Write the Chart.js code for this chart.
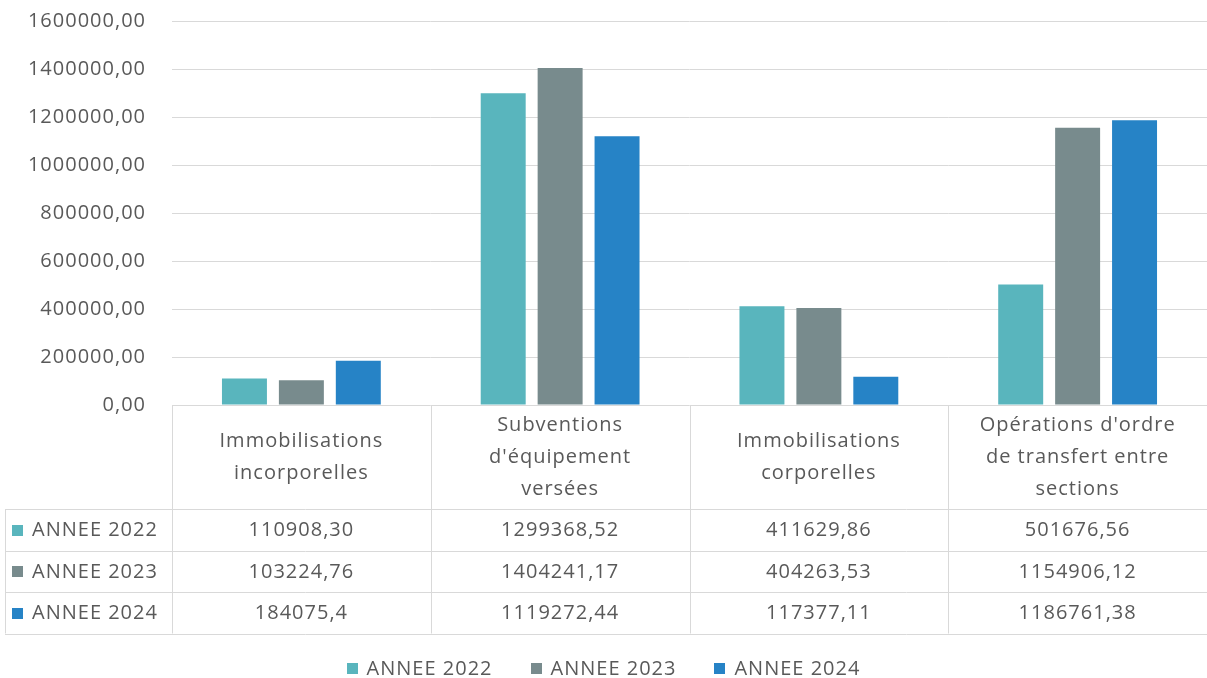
<!DOCTYPE html>
<html>
<head>
<meta charset="utf-8">
<script src="https://cdn.jsdelivr.net/npm/chart.js@4.4.1/dist/chart.umd.min.js"></script>
<style>
  html, body { margin: 0; padding: 0; background: #fff; }
  canvas { display: block; }
</style>
</head>
<body>
<canvas id="myChart" width="1207" height="678"></canvas>
<script>
// categories (header lines of the data table)
const categories = [
  ['Immobilisations', 'incorporelles'],
  ['Subventions', "d'équipement", 'versées'],
  ['Immobilisations', 'corporelles'],
  ["Opérations d'ordre", 'de transfert entre', 'sections']
];
const seriesNames = ['ANNEE 2022', 'ANNEE 2023', 'ANNEE 2024'];
// values as printed in the table
const values2022 = ['110908,30', '1299368,52', '411629,86', '501676,56'];
const values2023 = ['103224,76', '1404241,17', '404263,53', '1154906,12'];
const values2024 = ['184075,4', '1119272,44', '117377,11', '1186761,38'];
const yMax = 1600000;
const yStep = 200000;

const colors = ['#59B5BD', '#788B8D', '#2683C6'];
const textColor = '#595959';
const lineColor = '#D9D9D9';
const fontFamily = '"Open Sans", sans-serif';
const fontSize = 20;
const spacing = '1px';

const allValues = [values2022, values2023, values2024];
const toNum = s => parseFloat(s.replace(',', '.'));

const setSpacing = {
  id: 'setSpacing',
  beforeUpdate(chart) { chart.ctx.letterSpacing = spacing; },
  beforeDraw(chart) { chart.ctx.letterSpacing = spacing; }
};

const dataTable = {
  id: 'dataTable',
  afterDraw(chart) {
    const ctx = chart.ctx;
    const area = chart.chartArea;
    const x = chart.scales.x;
    const L = area.left, R = area.right, B = area.bottom;
    const headerBottom = B + 104;
    const rowH = 41.5;
    const tableBottom = headerBottom + rowH * seriesNames.length;
    const catW = (R - L) / categories.length;
    const px = v => Math.round(v) + 0.5;

    ctx.save();
    ctx.letterSpacing = spacing;
    ctx.strokeStyle = lineColor;
    ctx.lineWidth = 1;
    ctx.beginPath();
    for (let r = 0; r <= seriesNames.length; r++) {
      const y = px(headerBottom + r * rowH);
      ctx.moveTo(5, y); ctx.lineTo(R, y);
    }
    ctx.moveTo(px(5), headerBottom); ctx.lineTo(px(5), tableBottom);
    for (let i = 0; i <= categories.length; i++) {
      const xx = px(L + i * catW);
      ctx.moveTo(xx, B); ctx.lineTo(xx, tableBottom);
    }
    ctx.stroke();

    ctx.fillStyle = textColor;
    ctx.font = fontSize + 'px ' + fontFamily;
    ctx.textBaseline = 'middle';
    ctx.textAlign = 'center';
    const lh = 32;
    const hc = (B + headerBottom) / 2;
    categories.forEach((lines, i) => {
      const cx = x.getPixelForValue(i);
      const y0 = hc - (lines.length - 1) * lh / 2;
      lines.forEach((t, k) => ctx.fillText(t, cx, y0 + k * lh));
    });

    seriesNames.forEach((name, r) => {
      const cy = headerBottom + r * rowH + rowH / 2;
      ctx.fillStyle = colors[r];
      ctx.fillRect(12, Math.round(cy - 5), 11, 11);
      ctx.fillStyle = textColor;
      ctx.textAlign = 'left';
      ctx.fillText(name, 32, cy + 1);
      ctx.textAlign = 'center';
      allValues[r].forEach((v, i) => ctx.fillText(v, x.getPixelForValue(i), cy + 1));
    });

    // legend
    const ly = 668;
    const gapKey = 9, gapItem = 38;
    const widths = seriesNames.map(n => 11 + gapKey + ctx.measureText(n).width);
    const total = widths.reduce((a, b) => a + b, 0) + gapItem * (widths.length - 1);
    let lx = (chart.width - total) / 2;
    ctx.textAlign = 'left';
    seriesNames.forEach((n, r) => {
      ctx.fillStyle = colors[r];
      ctx.fillRect(Math.round(lx), ly - 5, 11, 11);
      ctx.fillStyle = textColor;
      ctx.fillText(n, lx + 11 + gapKey, ly + 1);
      lx += widths[r] + gapItem;
    });
    ctx.restore();
  }
};

new Chart(document.getElementById('myChart'), {
  type: 'bar',
  data: {
    labels: categories.map(c => c.join(' ')),
    datasets: seriesNames.map((name, r) => ({
      label: name,
      data: allValues[r].map(toNum),
      backgroundColor: colors[r],
      borderWidth: 0,
      categoryPercentage: 0.66,
      barPercentage: 0.79
    }))
  },
  options: {
    responsive: false,
    animation: false,
    layout: { padding: { top: 21, bottom: 273, left: 0, right: 0 } },
    plugins: { legend: { display: false }, tooltip: { enabled: false } },
    scales: {
      x: { display: false },
      y: {
        min: 0,
        max: yMax,
        afterFit(scale) {
          scale.width = 172;
          scale.paddingTop = 0;
          scale.paddingBottom = 0;
        },
        border: { display: false },
        grid: { color: lineColor, drawTicks: false, lineWidth: 1 },
        ticks: {
          stepSize: yStep,
          padding: 26,
          color: textColor,
          font: { family: fontFamily, size: fontSize },
          callback: v => v.toFixed(2).replace('.', ',')
        }
      }
    }
  },
  plugins: [setSpacing, dataTable]
});
</script>
</body>
</html>
